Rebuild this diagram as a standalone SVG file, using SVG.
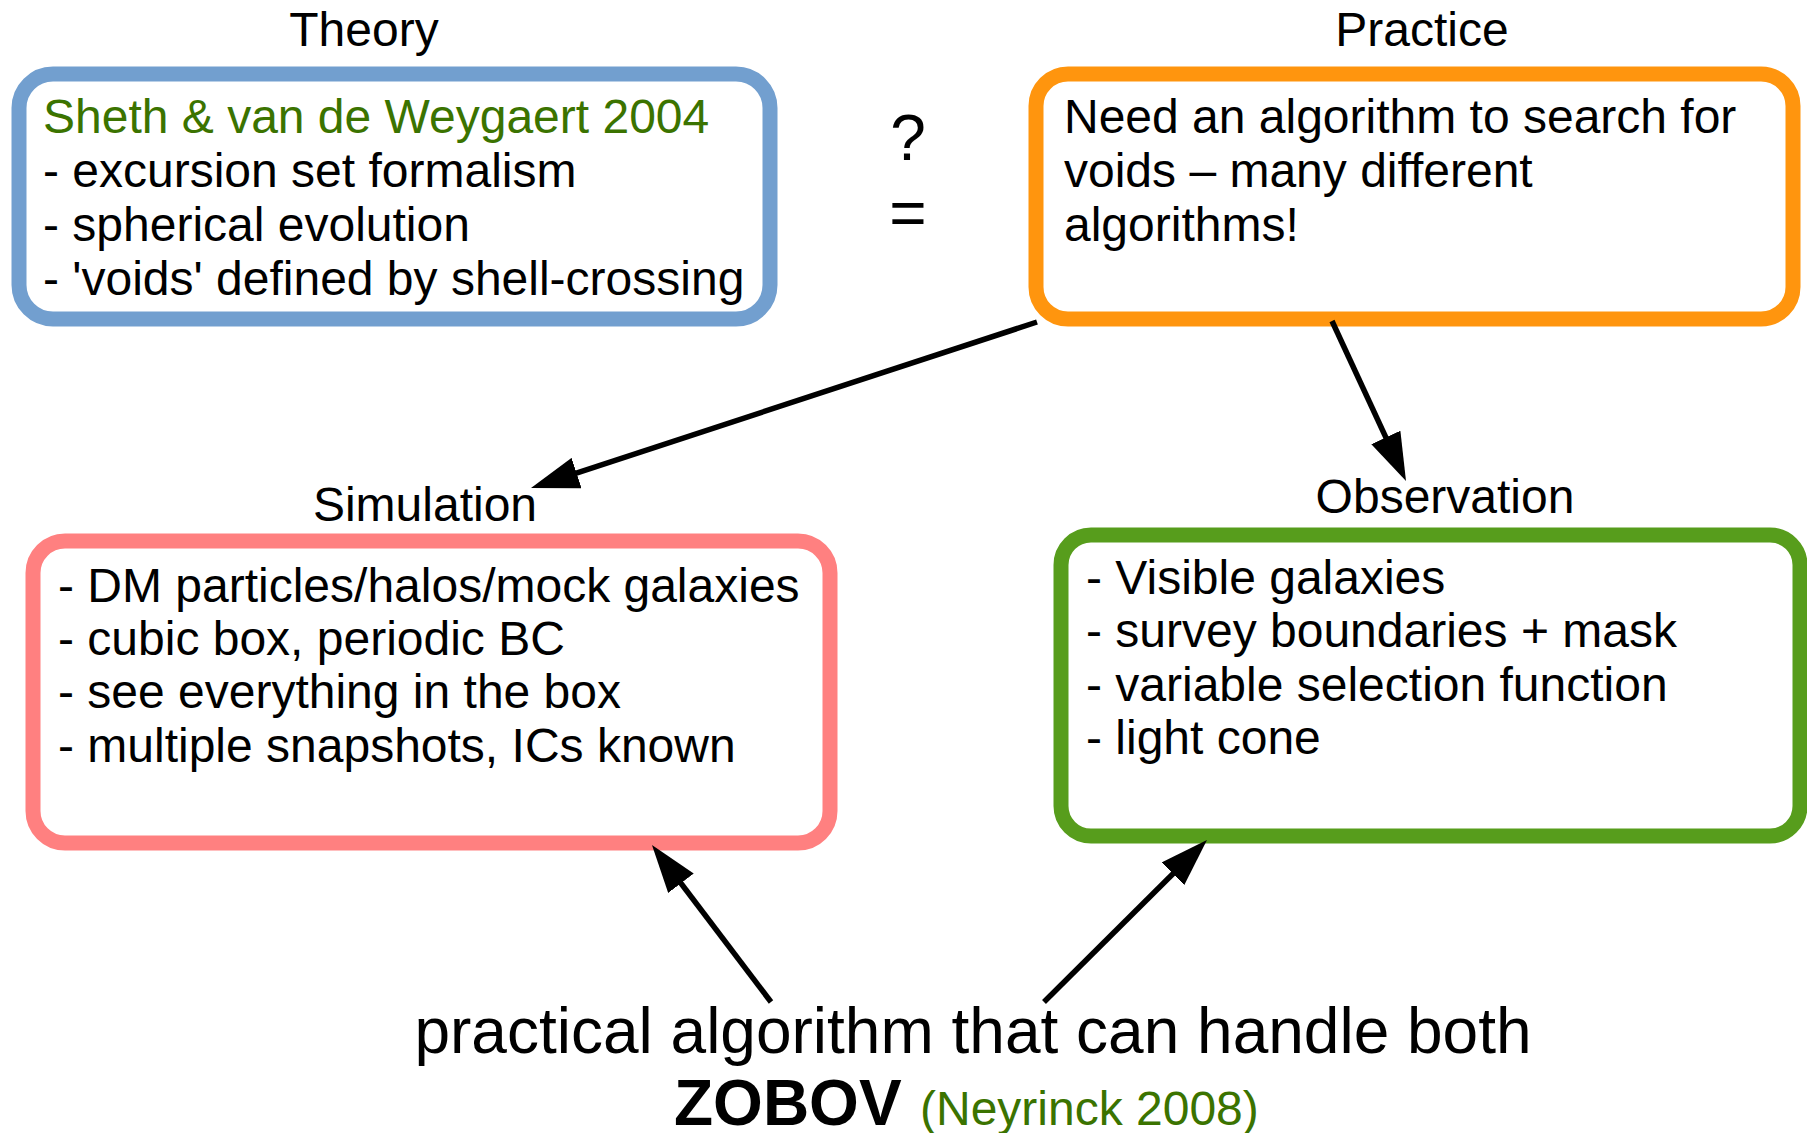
<svg xmlns="http://www.w3.org/2000/svg" width="1807" height="1133" viewBox="0 0 1807 1133">
  <defs>
    <style>
      text { font-family: "Liberation Sans", Arial, sans-serif; fill: #000; }
      .t48 { font-size: 48px; }
      .t64 { font-size: 64px; }
      .cite { fill: #3b7300; }
      .box { fill: #fff; stroke-width: 15; }
      .conn { stroke: #000; stroke-width: 5.5; fill: none; }
    </style>
    <!-- filled arrowhead; lines stop 10px short of the tip -->
    <marker id="arrow" viewBox="0 0 48 32" refX="38" refY="16" markerWidth="48" markerHeight="32" markerUnits="userSpaceOnUse" orient="auto">
      <path d="M0,0 L48,16 L0,32 z" fill="#000"/>
    </marker>
  </defs>

  <!-- Theory -->
  <g id="theory">
    <text class="t48" x="364" y="46" text-anchor="middle">Theory</text>
    <rect class="box" x="19" y="74" width="751" height="245" rx="34" stroke="#729fcf"/>
    <text class="t48 cite" x="43" y="133">Sheth &amp; van de Weygaert 2004</text>
    <text class="t48" x="43" y="187">- excursion set formalism</text>
    <text class="t48" x="43" y="241">- spherical evolution</text>
    <text class="t48" x="43" y="295">- 'voids' defined by shell-crossing</text>
  </g>

  <!-- ? = -->
  <g id="question">
    <text class="t64" x="908" y="160" text-anchor="middle">?</text>
    <text class="t64" x="908" y="235" text-anchor="middle">=</text>
  </g>

  <!-- Practice -->
  <g id="practice">
    <text class="t48" x="1422" y="46" text-anchor="middle">Practice</text>
    <rect class="box" x="1036" y="74" width="757" height="245" rx="32" stroke="#ff950e"/>
    <text class="t48" x="1064" y="133">Need an algorithm to search for</text>
    <text class="t48" x="1064" y="187">voids – many different</text>
    <text class="t48" x="1064" y="241">algorithms!</text>
  </g>

  <!-- Simulation -->
  <g id="simulation">
    <text class="t48" x="425" y="521" text-anchor="middle">Simulation</text>
    <rect class="box" x="33" y="541" width="797" height="302" rx="32" stroke="#ff8080"/>
    <text class="t48" x="58" y="602">- DM particles/halos/mock galaxies</text>
    <text class="t48" x="58" y="655">- cubic box, periodic BC</text>
    <text class="t48" x="58" y="708">- see everything in the box</text>
    <text class="t48" x="58" y="762">- multiple snapshots, ICs known</text>
  </g>

  <!-- Observation -->
  <g id="observation">
    <text class="t48" x="1445" y="513" text-anchor="middle">Observation</text>
    <rect class="box" x="1061" y="535" width="739" height="301" rx="30" stroke="#579d1c"/>
    <text class="t48" x="1086" y="594">- Visible galaxies</text>
    <text class="t48" x="1086" y="647">- survey boundaries + mask</text>
    <text class="t48" x="1086" y="701">- variable selection function</text>
    <text class="t48" x="1086" y="754">- light cone</text>
  </g>

  <!-- ZOBOV -->
  <g id="zobov">
    <text class="t64" x="973" y="1053" text-anchor="middle">practical algorithm that can handle both</text>
    <text class="t64" x="674" y="1125" font-weight="bold">ZOBOV</text>
    <text class="t48 cite" x="920" y="1125">(Neyrinck 2008)</text>
  </g>

  <!-- connectors -->
  <g id="connectors">
    <line class="conn" x1="1037" y1="322" x2="540.5" y2="484.9" marker-end="url(#arrow)"/>
    <line class="conn" x1="1332" y1="321" x2="1401.8" y2="471.9" marker-end="url(#arrow)"/>
    <line class="conn" x1="771" y1="1002" x2="658" y2="853" marker-end="url(#arrow)"/>
    <line class="conn" x1="1044" y1="1002" x2="1199.9" y2="847" marker-end="url(#arrow)"/>
  </g>
</svg>
